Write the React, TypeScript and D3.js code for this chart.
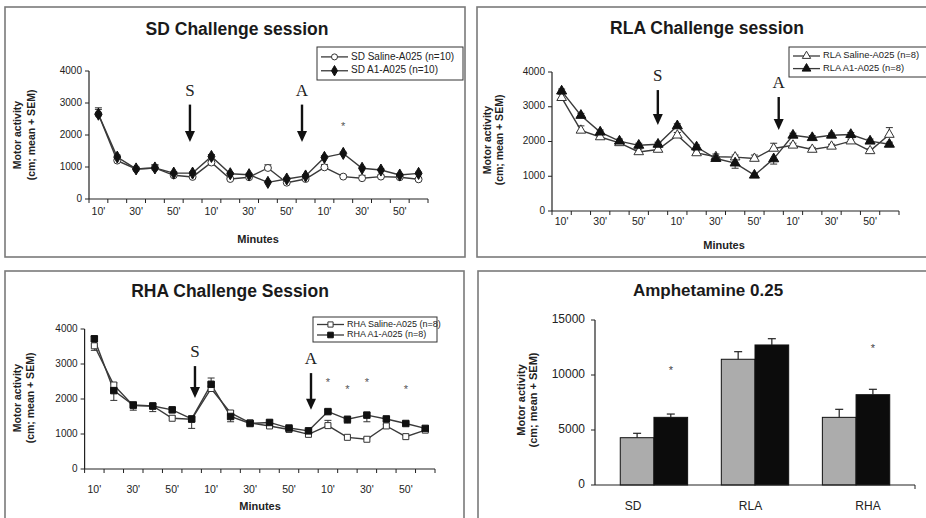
import * as d3 from 'd3';
import { useEffect, useRef } from 'react';

// minutes of each 60-min session, three sessions in a row
const minuteLabels = ["10'", "20'", "30'", "40'", "50'", "60'"];
const sessionMinutes = [...minuteLabels, ...minuteLabels, ...minuteLabels];
const lineTicks = [0, 1000, 2000, 3000, 4000];

const sdSaline = [2650, 1200, 940, 970, 740, 690, 1140, 625, 680, 970, 510, 625, 990, 700, 650, 700, 680, 615];
const sdSalineErr = [200, 50, 40, 100, 40, 40, 60, 40, 40, 100, 40, 40, 90, 40, 90, 40, 40, 40];
const sdA1 = [2650, 1310, 940, 970, 810, 810, 1330, 790, 760, 520, 625, 720, 1300, 1425, 960, 905, 750, 800];
const sdA1Err = [150, 60, 50, 90, 40, 40, 60, 40, 40, 40, 40, 40, 50, 40, 40, 40, 40, 40];

const rlaSaline = [3260, 2320, 2130, 1960, 1700, 1770, 2180, 1670, 1560, 1550, 1510, 1800, 1890, 1770, 1860, 2010, 1730, 2200];
const rlaSalineErr = [100, 130, 60, 60, 80, 60, 80, 60, 80, 60, 100, 150, 60, 60, 60, 60, 60, 200];
const rlaA1 = [3450, 2750, 2270, 2010, 1890, 1920, 2450, 1840, 1510, 1380, 1030, 1500, 2180, 2110, 2180, 2200, 2010, 1920];
const rlaA1Err = [60, 60, 60, 60, 60, 60, 60, 60, 60, -150, 50, -150, 60, 60, 60, 60, 60, 60];

const rhaSaline = [3520, 2400, 1810, 1800, 1450, 1420, 2300, 1600, 1320, 1230, 1130, 990, 1240, 905, 850, 1230, 925, 1110];
const rhaSalineErr = [-130, 60, 60, 60, 60, 60, 160, 60, 60, 60, 40, 40, 150, 40, 40, 40, 40, 40];
const rhaA1 = [3720, 2240, 1830, 1800, 1690, 1430, 2420, 1500, 1300, 1330, 1170, 1090, 1640, 1420, 1540, 1430, 1300, 1160];
const rhaA1Err = [60, -280, -150, -160, 60, -270, 180, -150, 60, 60, 40, 40, 60, -110, -190, 40, 40, -60];

const barGroups = ['SD', 'RLA', 'RHA'];
const barSaline = [4300, 11430, 6150];
const barSalineErr = [400, 690, 730];
const barA1 = [6150, 12730, 8210];
const barA1Err = [300, 570, 490];
const barStars = [10450, 0, 12450];
const barTicks = [0, 5000, 10000, 15000];

const SANS = "'Liberation Sans', Arial, sans-serif";
const SERIF = "'Liberation Serif', 'Times New Roman', serif";
const LINE = '#3a3a3a';

type Series = { values: number[]; err: number[]; symbol: d3.SymbolType; size: number; open: boolean; name: string };

function drawMarker(g: any, sym: d3.SymbolType, size: number, open: boolean, x: number, y: number) {
  g.append('path')
    .attr('d', d3.symbol(sym, size)())
    .attr('transform', `translate(${x},${y})`)
    .attr('fill', open ? '#fff' : '#111')
    .attr('stroke', open ? '#333' : '#111')
    .attr('stroke-width', 1);
}

function drawArrow(g: any, x: number, y0: number, y1: number, label: string) {
  g.append('line').attr('x1', x).attr('x2', x).attr('y1', y0).attr('y2', y1 - 9)
    .attr('stroke', '#111').attr('stroke-width', 2.4);
  g.append('path')
    .attr('d', `M${x - 5},${y1 - 11}L${x + 5},${y1 - 11}L${x},${y1}Z`)
    .attr('fill', '#111');
  g.append('text').attr('x', x).attr('y', y0 - 13)
    .attr('text-anchor', 'middle').attr('dominant-baseline', 'middle')
    .attr('font-family', SERIF).attr('font-size', 17).attr('fill', '#222')
    .text(label);
}

function drawYLabel(g: any, x1: number, x2: number, cy: number, size: number) {
  [['Motor activity', x1], ['(cm; mean + SEM)', x2]].forEach(([t, x]) => {
    g.append('text')
      .attr('transform', `translate(${x},${cy}) rotate(-90)`)
      .attr('text-anchor', 'middle').attr('dominant-baseline', 'middle')
      .attr('font-family', SANS).attr('font-weight', 'bold').attr('font-size', size)
      .attr('fill', '#222').text(t as string);
  });
}

function drawLinePanel(svg: any, cfg: any) {
  const g = svg.append('g');
  const n = sessionMinutes.length;
  const x = d3.scaleLinear().domain([0, n]).range(cfg.xRange);
  const y = d3.scaleLinear().domain([0, 4000]).range(cfg.yRange);
  const [x0, x1] = cfg.xRange;

  // panel frame
  g.append('rect').attr('x', cfg.box[0]).attr('y', cfg.box[1]).attr('width', cfg.box[2]).attr('height', cfg.box[3])
    .attr('fill', '#fff').attr('stroke', '#7a7a7a').attr('stroke-width', 1.6);

  g.append('text').attr('x', cfg.title[0]).attr('y', cfg.title[1])
    .attr('text-anchor', 'middle').attr('dominant-baseline', 'middle')
    .attr('font-family', SANS).attr('font-weight', 'bold').attr('font-size', 17.5).attr('fill', '#1a1a1a')
    .text(cfg.titleText);

  // axes
  g.append('line').attr('x1', x0).attr('x2', x0).attr('y1', y(0)).attr('y2', y(4000)).attr('stroke', '#222').attr('stroke-width', 1.2);
  g.append('line').attr('x1', x0).attr('x2', x1).attr('y1', y(0)).attr('y2', y(0)).attr('stroke', '#222').attr('stroke-width', 1.2);
  lineTicks.forEach(t => {
    g.append('line').attr('x1', x0 - 4).attr('x2', x0).attr('y1', y(t)).attr('y2', y(t)).attr('stroke', '#222');
    g.append('text').attr('x', x0 - 7).attr('y', y(t)).attr('text-anchor', 'end').attr('dominant-baseline', 'middle')
      .attr('font-family', SANS).attr('font-size', 10).attr('fill', '#222').text(t);
  });
  d3.range(n + 1).forEach(i => {
    g.append('line').attr('x1', x(i)).attr('x2', x(i)).attr('y1', y(0)).attr('y2', y(0) + 4).attr('stroke', '#222');
  });
  sessionMinutes.forEach((m, i) => {
    if (i % 2) return;
    g.append('text').attr('x', x(i + 0.5)).attr('y', cfg.xLabelY).attr('text-anchor', 'middle').attr('dominant-baseline', 'middle')
      .attr('font-family', SANS).attr('font-size', 10.5).attr('fill', '#222').text(m);
  });
  g.append('text').attr('x', cfg.minutes[0]).attr('y', cfg.minutes[1]).attr('text-anchor', 'middle').attr('dominant-baseline', 'middle')
    .attr('font-family', SANS).attr('font-weight', 'bold').attr('font-size', 11).attr('fill', '#222').text('Minutes');
  drawYLabel(g, cfg.yLabel[0], cfg.yLabel[1], cfg.yLabel[2], 10.5);

  // series
  const line = d3.line<number>().x((_, i) => x(i + 0.5)).y(v => y(v));
  cfg.series.forEach((s: Series) => {
    s.err.forEach((e, i) => {
      const px = x(i + 0.5);
      const ye = y(s.values[i] + e);
      g.append('line').attr('x1', px).attr('x2', px).attr('y1', y(s.values[i])).attr('y2', ye).attr('stroke', '#333');
      g.append('line').attr('x1', px - 3.5).attr('x2', px + 3.5).attr('y1', ye).attr('y2', ye).attr('stroke', '#333');
    });
    g.append('path').attr('d', line(s.values)).attr('fill', 'none').attr('stroke', LINE).attr('stroke-width', 1.4);
  });
  cfg.series.forEach((s: Series) => {
    s.values.forEach((v, i) => drawMarker(g, s.symbol, s.size, s.open, x(i + 0.5), y(v)));
  });

  cfg.stars.forEach(([i, v]: number[]) => {
    g.append('text').attr('x', x(i + 0.5)).attr('y', y(v) + 4).attr('text-anchor', 'middle')
      .attr('font-family', SANS).attr('font-size', 11).attr('fill', '#555').text('*');
  });
  cfg.arrows.forEach(([p, top, bottom, label]: any[]) => drawArrow(g, x(p), y(top), y(bottom), label));

  // legend
  const [lx, ly, lw, lh] = cfg.legend;
  g.append('rect').attr('x', lx).attr('y', ly).attr('width', lw).attr('height', lh)
    .attr('fill', '#fff').attr('stroke', '#333').attr('stroke-width', 1);
  cfg.series.forEach((s: Series, k: number) => {
    const ry = ly + lh * (k === 0 ? 0.3 : 0.72);
    g.append('line').attr('x1', lx + 4).attr('x2', lx + 31).attr('y1', ry).attr('y2', ry).attr('stroke', LINE).attr('stroke-width', 1.3);
    drawMarker(g, s.symbol, s.size * 0.75, s.open, lx + 17.5, ry);
    g.append('text').attr('x', lx + 34).attr('y', ry).attr('dominant-baseline', 'middle')
      .attr('font-family', SANS).attr('font-size', cfg.legendFont).attr('fill', '#222').text(s.name);
  });
}

function drawBarPanel(svg: any) {
  const g = svg.append('g');
  const x = d3.scaleBand().domain(barGroups).range([595, 915]).paddingInner(1 / 3).paddingOuter(0.25);
  const labelX = d3.scalePoint().domain(barGroups).range([633, 868]);
  const y = d3.scaleLinear().domain([0, 15000]).range([485, 320]);
  const half = x.bandwidth() / 2;

  g.append('rect').attr('x', 478).attr('y', 271).attr('width', 460).attr('height', 260)
    .attr('fill', '#fff').attr('stroke', '#7a7a7a').attr('stroke-width', 1.6);
  g.append('text').attr('x', 708).attr('y', 292).attr('text-anchor', 'middle').attr('dominant-baseline', 'middle')
    .attr('font-family', SANS).attr('font-weight', 'bold').attr('font-size', 17).attr('fill', '#1a1a1a')
    .text('Amphetamine 0.25');

  const bars = [
    { v: barSaline, e: barSalineErr, fill: '#acacac', off: 0 },
    { v: barA1, e: barA1Err, fill: '#0c0c0c', off: half },
  ];
  bars.forEach(b => {
    barGroups.forEach((c, i) => {
      const bx = (x(c) as number) + b.off;
      g.append('rect').attr('x', bx).attr('y', y(b.v[i])).attr('width', half).attr('height', y(0) - y(b.v[i]))
        .attr('fill', b.fill).attr('stroke', '#111').attr('stroke-width', 1);
      const cx = bx + half / 2;
      const ye = y(b.v[i] + b.e[i]);
      g.append('line').attr('x1', cx).attr('x2', cx).attr('y1', y(b.v[i])).attr('y2', ye).attr('stroke', '#222').attr('stroke-width', 1.2);
      g.append('line').attr('x1', cx - 4).attr('x2', cx + 4).attr('y1', ye).attr('y2', ye).attr('stroke', '#222').attr('stroke-width', 1.2);
    });
  });
  barGroups.forEach((c, i) => {
    if (!barStars[i]) return;
    g.append('text').attr('x', (x(c) as number) + half * 1.5).attr('y', y(barStars[i]) + 4).attr('text-anchor', 'middle')
      .attr('font-family', SANS).attr('font-size', 11).attr('fill', '#444').text('*');
  });

  g.append('line').attr('x1', 595).attr('x2', 595).attr('y1', y(0)).attr('y2', y(15000)).attr('stroke', '#222').attr('stroke-width', 1.2);
  g.append('line').attr('x1', 595).attr('x2', 915).attr('y1', y(0)).attr('y2', y(0)).attr('stroke', '#222').attr('stroke-width', 1.2);
  g.append('line').attr('x1', 915).attr('x2', 915).attr('y1', y(0)).attr('y2', y(0) + 4).attr('stroke', '#222');
  barTicks.forEach(t => {
    g.append('line').attr('x1', 591).attr('x2', 595).attr('y1', y(t)).attr('y2', y(t)).attr('stroke', '#222');
    g.append('text').attr('x', 585).attr('y', y(t)).attr('text-anchor', 'end').attr('dominant-baseline', 'middle')
      .attr('font-family', SANS).attr('font-size', 12).attr('fill', '#222').text(t);
  });
  barGroups.forEach(c => {
    g.append('text').attr('x', labelX(c) as number).attr('y', 507).attr('text-anchor', 'middle').attr('dominant-baseline', 'middle')
      .attr('font-family', SANS).attr('font-size', 12).attr('fill', '#222').text(c);
  });
  drawYLabel(g, 522, 534, 400, 11);
}

export default function App() {
  const ref = useRef<SVGSVGElement>(null);

  useEffect(() => {
    const svg = d3.select(ref.current);
    svg.selectAll('*').remove();
    svg.append('rect').attr('width', 926).attr('height', 518).attr('fill', '#fff');

    drawLinePanel(svg, {
      box: [5, 7, 460, 250], titleText: 'SD Challenge session', title: [237, 30],
      xRange: [89, 428], yRange: [199, 71], xLabelY: 212, minutes: [258, 240], yLabel: [18, 32, 135],
      legend: [317, 47, 146, 33], legendFont: 10,
      series: [
        { values: sdSaline, err: sdSalineErr, symbol: d3.symbolCircle, size: 38, open: true, name: 'SD Saline-A025 (n=10)' },
        { values: sdA1, err: sdA1Err, symbol: d3.symbolDiamond, size: 42, open: false, name: 'SD A1-A025 (n=10)' },
      ],
      stars: [[13, 2290]],
      arrows: [[5.36, 2950, 1780, 'S'], [11.31, 2950, 1780, 'A']],
    });

    drawLinePanel(svg, {
      box: [477, 7, 470, 250], titleText: 'RLA Challenge session', title: [707, 29],
      xRange: [552, 899], yRange: [211, 72], xLabelY: 222, minutes: [724, 246], yLabel: [488, 500, 140],
      legend: [789, 47, 160, 30], legendFont: 9.4,
      series: [
        { values: rlaSaline, err: rlaSalineErr, symbol: d3.symbolTriangle, size: 40, open: true, name: 'RLA Saline-A025 (n=8)' },
        { values: rlaA1, err: rlaA1Err, symbol: d3.symbolTriangle, size: 44, open: false, name: 'RLA A1-A025 (n=8)' },
      ],
      stars: [],
      arrows: [[5.49, 3480, 2475, 'S'], [11.76, 3280, 2330, 'A']],
    });

    drawLinePanel(svg, {
      box: [5, 271, 459, 260], titleText: 'RHA Challenge Session', title: [230, 292],
      xRange: [84.6, 435], yRange: [469, 329], xLabelY: 490, minutes: [260, 507], yLabel: [18, 31, 398],
      legend: [313, 317, 124, 25], legendFont: 9,
      series: [
        { values: rhaSaline, err: rhaSalineErr, symbol: d3.symbolSquare, size: 36, open: true, name: 'RHA Saline-A025 (n=8)' },
        { values: rhaA1, err: rhaA1Err, symbol: d3.symbolSquare, size: 42, open: false, name: 'RHA A1-A025 (n=8)' },
      ],
      stars: [[12, 2476], [13, 2276], [14, 2476], [16, 2276]],
      arrows: [[5.67, 2940, 2030, 'S'], [11.63, 2740, 1690, 'A']],
    });

    drawBarPanel(svg);
  }, []);

  return (
    <svg ref={ref} width={926} height={518} style={{ position: 'absolute', left: 0, top: 0 }} />
  );
}
